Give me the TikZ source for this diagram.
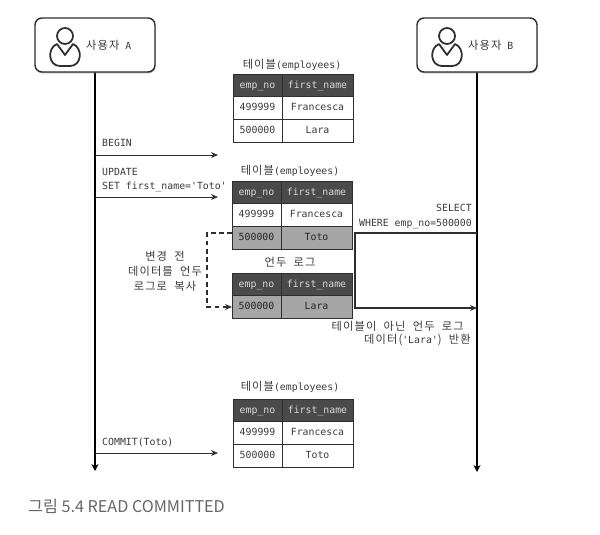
\documentclass[tikz,border=0pt]{standalone}
\usepackage{fontspec}
\usepackage{xcolor}
\usepackage{tikz}
\usetikzlibrary{positioning,arrows.meta,shadows}
\setmonofont{DejaVu Sans Mono}
\newfontfamily\korfont[LetterSpace=10,WordSpace=2]{Noto Sans CJK KR}
\newfontfamily\capfont{Noto Sans CJK KR}
\newcommand{\kor}[1]{{\korfont\fontsize{9.6}{12.8}\selectfont #1}}
\definecolor{headcolour}{HTML}{4A4A4A}
\definecolor{rowcolour}{HTML}{A6A6A6}
\definecolor{inkcolour}{HTML}{2E2E2E}
\definecolor{textcolour}{HTML}{3A3A3A}

\tikzset{
    person/.pic={
        \draw[inkcolour, line width=1.5pt] (65,36) circle (8);
        \draw[inkcolour, line width=1.5pt, line join=round]
            (57,44) .. controls (47,48) and (48,66) .. (60,66) -- (70,66)
            .. controls (82,66) and (83,48) .. (73,44) -- (65,55) -- cycle;
    }
}

\begin{document}
\begin{tikzpicture}[
        x=0.03cm,
        y=-0.03cm,
        every node/.style={
            text=textcolour,
            font=\fontsize{8.4}{12.8}\selectfont\ttfamily
        },
        userbox/.style={
            draw=inkcolour,
            fill=white,
            line width=1.2pt,
            rounded corners=6pt,
            minimum width=3.6cm,
            minimum height=1.62cm,
            drop shadow={shadow xshift=0.5pt, shadow yshift=-1.2pt, opacity=0.55}
        },
        cell/.style={
            draw=inkcolour,
            line width=0.8pt,
            inner sep=0pt,
            outer sep=0pt,
            text height=6.6pt,
            text depth=1.8pt,
            minimum height=0.68cm
        },
        nocell/.style={cell, minimum width=1.47cm},
        namecell/.style={cell, minimum width=2.13cm},
        head/.style={fill=headcolour, text=white!85!black},
        changed/.style={fill=rowcolour, text=black!85},
        msg/.style={-{Stealth[length=6pt,width=5pt]}, inkcolour, line width=0.7pt},
        lifeline/.style={-{Stealth[length=6pt,width=6pt]}, black, line width=1.5pt},
        note/.style={anchor=west, inner sep=0pt},
        rightnote/.style={anchor=east, inner sep=0pt},
        caption/.style={anchor=west, inner sep=0pt, text=black!60,
            font=\capfont\fontsize{13.8}{15}\selectfont}
    ]
        \useasboundingbox (0,0) rectangle (600,534);

        % users
        \coordinate (endA) at (95,471);
        \coordinate (endB) at (477,472);
        \draw[lifeline] (95,72) -- (endA);
        \draw[lifeline] (477,72) -- (endB);
        \node[userbox] (userA) at (95,45) {};
        \node[userbox] (userB) at (477,45) {};
        \pic at (0,0) {person};
        \pic at (382,0) {person};
        \node[note] (labelA) at (86,45) {\kor{사용자} A};
        \node[note] (labelB) at (468,45) {\kor{사용자} B};

        % first table
        \node (titleA) at (292,65) {\kor{테이블}(employees)};
        \node[nocell, head, anchor=north west] (noA) at (233,74) {emp\_no};
        \node[namecell, head, right=0pt of noA] (nameHeadA) {first\_name};
        \node[nocell, below=0pt of noA] (noA1) {499999};
        \node[namecell, below=0pt of nameHeadA] (nameA1) {Francesca};
        \node[nocell, below=0pt of noA1] (noA2) {500000};
        \node[namecell, below=0pt of nameA1] (nameA2) {Lara};

        % second table
        \node (titleB) at (290,171) {\kor{테이블}(employees)};
        \node[nocell, head, anchor=north west] (noB) at (232,181) {emp\_no};
        \node[namecell, head, right=0pt of noB] (nameHeadB) {first\_name};
        \node[nocell, below=0pt of noB] (noB1) {499999};
        \node[namecell, below=0pt of nameHeadB] (nameB1) {Francesca};
        \node[nocell, changed, below=0pt of noB1] (noB2) {500000};
        \node[namecell, changed, below=0pt of nameB1] (nameB2) {Toto};

        % undo log
        \node (titleU) at (290,262) {\kor{언두 로그}};
        \node[nocell, head, anchor=north west] (noU) at (232,273) {emp\_no};
        \node[namecell, head, right=0pt of noU] (nameHeadU) {first\_name};
        \node[nocell, changed, below=0pt of noU] (noU1) {500000};
        \node[namecell, changed, below=0pt of nameHeadU] (nameU1) {Lara};

        % third table
        \node (titleC) at (290,387) {\kor{테이블}(employees)};
        \node[nocell, head, anchor=north west] (noC) at (233,399) {emp\_no};
        \node[namecell, head, right=0pt of noC] (nameHeadC) {first\_name};
        \node[nocell, below=0pt of noC] (noC1) {499999};
        \node[namecell, below=0pt of nameHeadC] (nameC1) {Francesca};
        \node[nocell, below=0pt of noC1] (noC2) {500000};
        \node[namecell, below=0pt of nameC1] (nameC2) {Toto};

        % messages of user A
        \coordinate (beginEnd) at (218,155);
        \coordinate (updateEnd) at (218,197);
        \coordinate (commitEnd) at (218,453);
        \draw[msg] (userA |- beginEnd) -- (beginEnd);
        \draw[msg] (userA |- updateEnd) -- (updateEnd);
        \draw[msg] (userA |- commitEnd) -- (commitEnd);
        \node[note] (beginText) at (102,143) {BEGIN};
        \node[note] (updateText) at (102,172) {UPDATE};
        \node[note] (setText) at (102,187) {SET first\_name='Toto'};
        \node[note] (commitText) at (102,442) {COMMIT(Toto)};

        % copy to undo log
        \coordinate (copyMid) at (207,233);
        \draw[msg, dash pattern=on 4pt off 3pt, line width=1pt] (noB2.west |- copyMid) -- (copyMid) -- (copyMid |- noU1.west) -- (noU1.west);
        \node[align=center, inner sep=0pt] (copyText) at (165,271) {\kor{변경 전}\\\kor{데이터를 언두}\\\kor{로그로 복사}};

        % select of user B
        \coordinate (selectTop) at (355,233);
        \coordinate (selectBottom) at (355,308);
        \draw[msg, line width=0.9pt] (userB |- selectTop) -- (selectTop) -- (selectBottom) -- (userB |- selectBottom);
        \node[align=right, rightnote] (selectText) at (472,217) {SELECT\\WHERE emp\_no=500000};
        \node[rightnote] (returnText) at (464,326) {\kor{테이블이 아닌 언두 로그}};
        \node[rightnote] (returnData) at (471,340) {\kor{데이터(}'Lara'\kor{) 반환}};

        % caption
        \node[caption] (figCaption) at (28,506) {그림 5.4 READ COMMITTED};
    \end{tikzpicture}
\end{document}
